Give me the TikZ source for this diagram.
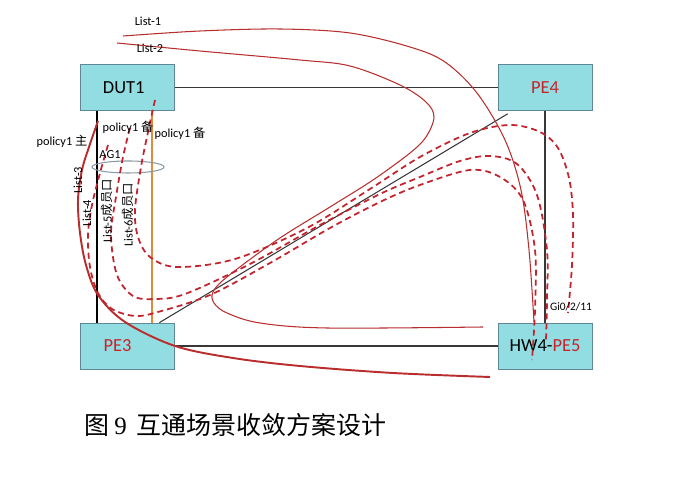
\documentclass[tikz,border=0pt]{standalone}
\usepackage{fontspec}
\setmainfont{Carlito}
\newfontfamily\cjk{Noto Sans CJK SC}
\newfontfamily\capserif{Liberation Serif}
\definecolor{boxcyan}{RGB}{146,221,226}
\definecolor{boxedge}{RGB}{95,135,150}
\definecolor{pered}{RGB}{200,35,40}
\definecolor{listred}{RGB}{185,45,45}
\definecolor{dashred}{RGB}{195,35,45}
\definecolor{linkgray}{RGB}{55,55,55}
\definecolor{trunkorange}{RGB}{222,140,60}
\definecolor{ringgray}{RGB}{135,155,165}
\begin{document}
\begin{tikzpicture}[x=0.02cm, y=-0.02cm,
  dev/.style={draw=boxedge, fill=boxcyan, minimum width=1.88cm, minimum height=0.92cm,
    inner sep=0pt, font=\fontsize{10.5}{12}\selectfont},
  lbl/.style={font=\fontsize{7}{8}\selectfont, inner sep=0.5pt},
  link/.style={draw=linkgray, line width=0.6pt},
  list/.style={listred, line width=0.6pt},
  listbold/.style={listred, line width=1.1pt},
  listdash/.style={dashred, line width=1pt, dash pattern=on 3.4pt off 2.3pt}]
  \useasboundingbox (0,0) rectangle (700,492);

  % devices
  \node[dev] (dut1) at (127.5,87.5) {DUT1\hspace*{0.15cm}};
  \node[dev] (pe4) at (545,87.5) {\textcolor{pered}{PE4}};
  \node[dev] (pe3) at (127.5,346) {\textcolor{pered}{PE3}\hspace*{0.4cm}};
  \node[dev] (pe5) at (545,346) {HW4-\textcolor{pered}{PE5}};

  % links
  \draw[link] (dut1) -- (pe4);
  \draw[link] (pe3) -- (pe5);
  \draw[link] (pe4) -- (pe5);
  \draw[link] ([xshift=-0.31cm]pe3.north east) -- ([xshift=0.2cm,yshift=-0.06cm]pe4.south west);
  \draw[black, line width=1.1pt] ([xshift=0.34cm]dut1.south west) -- ([xshift=0.34cm]pe3.north west);
  \draw[trunkorange, line width=1.1pt] ([xshift=1.43cm]dut1.south west) -- ([xshift=1.43cm]pe3.north west);
  \draw[ringgray, line width=0.6pt] (128,167) ellipse [x radius=0.72cm, y radius=0.12cm];

  % lists
  \draw[list] plot[smooth, tension=0.55] coordinates {(123,36) (200,31) (280,29) (350,33)
    (410,47) (445,62) (477,93) (505,140) (521,190) (529,250) (534,322)};
  \draw[list] plot[smooth, tension=0.55] coordinates {(117,43) (200,51) (300,60) (350,66)
    (400,85) (426,102) (434,117) (426,137) (410,153) (373,180) (330,207) (277,240) (227,277)
    (213,292) (214,303) (227,313) (260,323) (327,328) (483,327)};
  \draw[listbold] plot[smooth, tension=0.55] coordinates {(98,121) (89,147) (82,170) (78,200)
    (80,233) (86,265) (98,295) (125,322) (175,346) (233,358) (300,366) (393,373) (490,377)};
  \draw[listdash] plot[smooth, tension=0.55] coordinates {(108,145) (100,173) (92,205) (88,235)
    (90,267) (98,293) (112,309) (135,316) (158,312) (210,295) (270,263) (330,228) (380,202)
    (420,185) (470,170) (500,177) (523,200) (535,250) (535,310) (532,360)};
  \draw[listdash] plot[smooth, tension=0.55] coordinates {(130,128) (123,157) (116,197) (111,235)
    (117,275) (133,296) (155,299) (185,294) (250,264) (320,225) (380,194) (420,177) (460,161)
    (490,156) (517,164) (537,195) (547,250) (547,300) (546,340)};
  \draw[listdash] plot[smooth, tension=0.55] coordinates {(155,100) (148,132) (141,167) (135,210)
    (138,237) (150,257) (177,267) (235,259) (307,228) (370,189) (420,157) (470,133) (510,125)
    (540,132) (558,148) (569,178) (573,215) (572,265) (568,313)};

  % labels
  \node[lbl] (l1) at (148,21) {List-1};
  \node[lbl] (l2) at (150,48) {List-2};
  \node[lbl, rotate=90] (l3) at (78,180) {List-3};
  \node[lbl, rotate=90] (l4) at (87,213) {List-4};
  \node[lbl, rotate=90] (l5) at (107,211) {List-5{\cjk 成员口}};
  \node[lbl, rotate=90] (l6) at (128,215) {List-6{\cjk 成员口}};
  \node[lbl] (pm) at (62,141) {policy1 {\cjk 主}};
  \node[lbl] (pb1) at (128,127) {policy1 {\cjk 备}};
  \node[lbl] (pb2) at (180,133) {policy1 {\cjk 备}};
  \node[lbl] (ag) at (110,155) {AG1};
  \node[lbl, font=\fontsize{6.5}{7}\selectfont] (gi) at (571,307) {Gi0/2/11};

  \node[anchor=west, inner sep=0pt, font=\cjk\fontsize{14.2}{16}\selectfont] (cap) at (84,425)
    {图\hspace{0.2em}{\capserif 9}\hspace{0.4em}互通场景收敛方案设计};
\end{tikzpicture}
\end{document}
